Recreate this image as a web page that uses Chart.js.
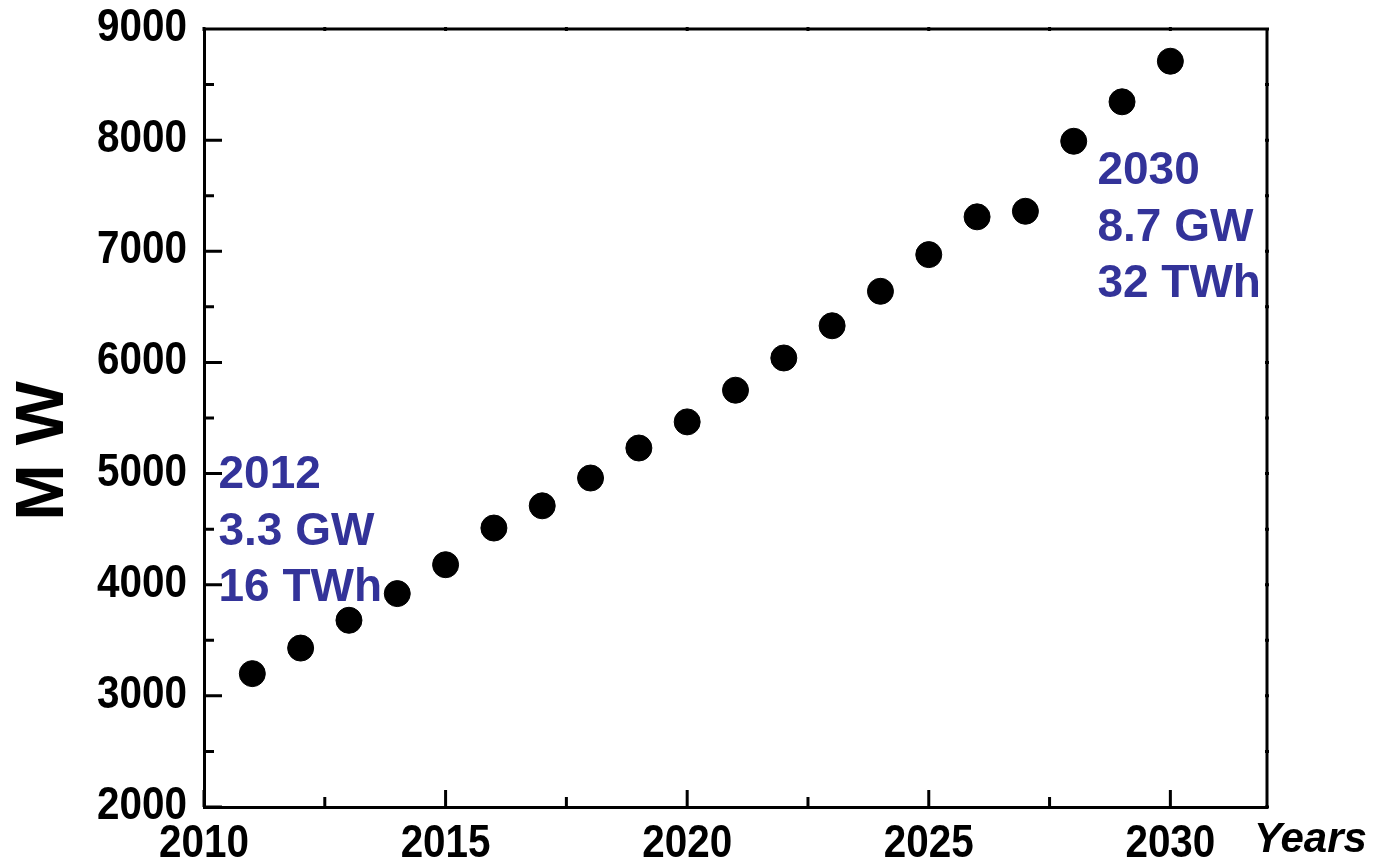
<!DOCTYPE html>
<html>
<head>
<meta charset="utf-8">
<title>MW by year</title>
<script src="https://cdn.jsdelivr.net/npm/chart.js@4/dist/chart.umd.min.js"></script>
<style>
    html, body { margin: 0; padding: 0; background: #ffffff; }
    #wrap { width: 1383px; height: 860px; }
</style>
</head>
<body>
<div id="wrap"><canvas id="mwChart"></canvas></div>
<script>
// Installed capacity per year (MW)
const years = [2011, 2012, 2013, 2014, 2015, 2016, 2017, 2018, 2019, 2020,
               2021, 2022, 2023, 2024, 2025, 2026, 2027, 2028, 2029, 2030];
const megawatts = [3200, 3430, 3680, 3920, 4180, 4510, 4710, 4960, 5230, 5465,
                   5750, 6040, 6330, 6640, 6970, 7310, 7360, 7990, 8345, 8710];

// Axis ticks
const xTicks = [2010, 2015, 2020, 2025, 2030];
const xMinorTicks = [2012.5, 2017.5, 2022.5, 2027.5];
const yTicks = [2000, 3000, 4000, 5000, 6000, 7000, 8000, 9000];
const yMinorTicks = [2500, 3500, 4500, 5500, 6500, 7500, 8500];

// Text notes
const startNote = ['2012', '3.3 GW', '16 TWh'];
const endNote = ['2030', '8.7 GW', '32 TWh'];
const yTitle = 'M W';
const xTitle = 'Years';

const noteColor = '#333399';
const labelFont = 'bold 47px "Liberation Sans", Arial, sans-serif';

// Inward ticks, top/right frame, tick labels and the text notes
const framePlugin = {
    id: 'framePlugin',
    afterDraw(chart) {
        const ctx = chart.ctx;
        const area = chart.chartArea;
        const x = chart.scales.x;
        const y = chart.scales.y;

        ctx.save();
        ctx.strokeStyle = '#000';
        ctx.lineWidth = 3;
        ctx.beginPath();
        // top and right frame
        ctx.moveTo(area.left, area.top);
        ctx.lineTo(area.right, area.top);
        ctx.lineTo(area.right, area.bottom);

        yTicks.forEach(v => {
            const py = y.getPixelForValue(v);
            ctx.moveTo(area.left, py);
            ctx.lineTo(area.left + 18, py);
            ctx.moveTo(area.right - 2, py);
            ctx.lineTo(area.right + 2, py);
        });
        yMinorTicks.forEach(v => {
            const py = y.getPixelForValue(v);
            ctx.moveTo(area.left, py);
            ctx.lineTo(area.left + 10, py);
            ctx.moveTo(area.right - 2, py);
            ctx.lineTo(area.right + 2, py);
        });
        xTicks.forEach(v => {
            const px = x.getPixelForValue(v);
            ctx.moveTo(px, area.bottom);
            ctx.lineTo(px, area.bottom - 17);
            ctx.moveTo(px, area.top - 2);
            ctx.lineTo(px, area.top + 2);
        });
        xMinorTicks.forEach(v => {
            const px = x.getPixelForValue(v);
            ctx.moveTo(px, area.bottom);
            ctx.lineTo(px, area.bottom - 10);
            ctx.moveTo(px, area.top - 2);
            ctx.lineTo(px, area.top + 2);
        });
        ctx.stroke();

        // tick labels (condensed, like the original)
        ctx.fillStyle = '#000';
        ctx.font = labelFont;
        ctx.textBaseline = 'alphabetic';
        const drawCondensed = (text, px, py, align) => {
            ctx.save();
            ctx.translate(px, py);
            ctx.scale(0.86, 1);
            ctx.textAlign = align;
            ctx.fillText(text, 0, 0);
            ctx.restore();
        };
        y.ticks.forEach(t => {
            const py = y.getPixelForValue(t.value);
            drawCondensed(String(t.value), area.left - 17, py - 5 + 17, 'right');
        });
        x.ticks.forEach(t => {
            const px = x.getPixelForValue(t.value);
            drawCondensed(String(t.value), px, area.bottom + 33 + 17, 'center');
        });

        // blue notes
        ctx.fillStyle = noteColor;
        ctx.font = 'bold 46px "Liberation Sans", Arial, sans-serif';
        ctx.textAlign = 'left';
        const drawNote = (lines, vx, vy) => {
            const px = x.getPixelForValue(vx);
            const py = y.getPixelForValue(vy);
            lines.forEach((t, i) => {
                ctx.fillText(t, px, py + i * 56.5 + 16.5);
            });
        };
        drawNote(startNote, 2010.3, 5015);
        drawNote(endNote, 2028.49, 7751);

        // axis titles
        ctx.fillStyle = '#000';
        ctx.font = 'italic bold 42px "Liberation Sans", Arial, sans-serif';
        ctx.fillText(xTitle, 1254, 852);

        ctx.font = 'bold 68px "Liberation Sans", Arial, sans-serif';
        ctx.textAlign = 'center';
        ctx.textBaseline = 'middle';
        ctx.translate(42, 451);
        ctx.rotate(-Math.PI / 2);
        ctx.fillText(yTitle, 0, 2);
        ctx.restore();
    }
};

const ctx = document.getElementById('mwChart').getContext('2d');

window.mwChart = new Chart(ctx, {
    type: 'scatter',
    data: {
        datasets: [{
            label: 'MW',
            data: years.map((yr, i) => ({ x: yr, y: megawatts[i] })),
            backgroundColor: '#000',
            borderColor: '#000',
            pointRadius: 13,
            pointHoverRadius: 13,
            showLine: false
        }]
    },
    options: {
        responsive: true,
        maintainAspectRatio: false,
        animation: false,
        layout: {
            padding: { top: 29, right: 116, left: 0, bottom: 0 }
        },
        plugins: {
            legend: { display: false },
            tooltip: { enabled: false }
        },
        scales: {
            x: {
                type: 'linear',
                min: 2010,
                max: 2032,
                afterBuildTicks: scale => {
                    scale.ticks = xTicks.map(v => ({ value: v }));
                },
                afterFit: scale => {
                    scale.height = 53;
                    scale.paddingLeft = 0;
                    scale.paddingRight = 0;
                },
                grid: { drawOnChartArea: false, drawTicks: false },
                border: { display: true, color: '#000', width: 3 },
                ticks: { display: false }
            },
            y: {
                type: 'linear',
                min: 2000,
                max: 9000,
                afterBuildTicks: scale => {
                    scale.ticks = yTicks.map(v => ({ value: v }));
                },
                afterFit: scale => {
                    scale.width = 204;
                    scale.paddingTop = 0;
                    scale.paddingBottom = 0;
                },
                grid: { drawOnChartArea: false, drawTicks: false },
                border: { display: true, color: '#000', width: 3 },
                ticks: { display: false }
            }
        }
    },
    plugins: [framePlugin]
});
</script>
</body>
</html>
